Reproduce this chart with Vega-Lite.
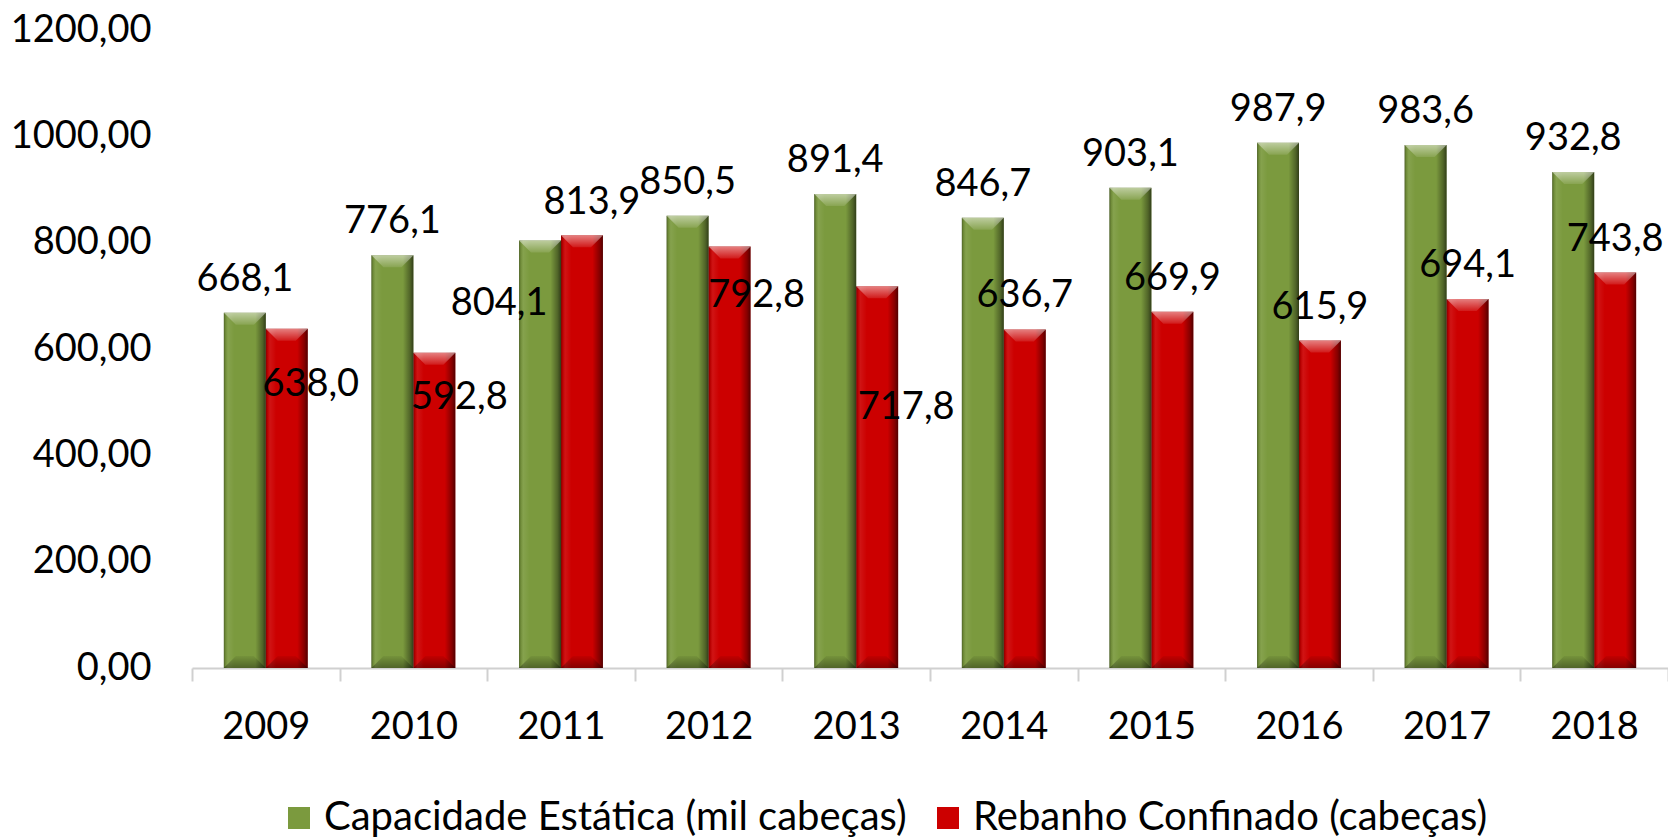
{
  "$schema": "https://vega.github.io/schema/vega-lite/v6.json",
  "width": 1476,
  "height": 638,
  "autosize": {"type": "none"},
  "padding": {"left": 192, "top": 30, "right": 0, "bottom": 170},
  "background": "white",
  "config": {
    "view": {"stroke": null},
    "font": "Lato",
    "locale": {"number": {"decimal": ",", "thousands": ".", "grouping": [3], "currency": ["R$ ", ""]}}
  },
  "data": {
    "values": [
      {"ano": "2009", "serie": "Capacidade Estática (mil cabeças)", "valor": 668.1},
      {"ano": "2009", "serie": "Rebanho Confinado (cabeças)", "valor": 638.0},
      {"ano": "2010", "serie": "Capacidade Estática (mil cabeças)", "valor": 776.1},
      {"ano": "2010", "serie": "Rebanho Confinado (cabeças)", "valor": 592.8},
      {"ano": "2011", "serie": "Capacidade Estática (mil cabeças)", "valor": 804.1},
      {"ano": "2011", "serie": "Rebanho Confinado (cabeças)", "valor": 813.9},
      {"ano": "2012", "serie": "Capacidade Estática (mil cabeças)", "valor": 850.5},
      {"ano": "2012", "serie": "Rebanho Confinado (cabeças)", "valor": 792.8},
      {"ano": "2013", "serie": "Capacidade Estática (mil cabeças)", "valor": 891.4},
      {"ano": "2013", "serie": "Rebanho Confinado (cabeças)", "valor": 717.8},
      {"ano": "2014", "serie": "Capacidade Estática (mil cabeças)", "valor": 846.7},
      {"ano": "2014", "serie": "Rebanho Confinado (cabeças)", "valor": 636.7},
      {"ano": "2015", "serie": "Capacidade Estática (mil cabeças)", "valor": 903.1},
      {"ano": "2015", "serie": "Rebanho Confinado (cabeças)", "valor": 669.9},
      {"ano": "2016", "serie": "Capacidade Estática (mil cabeças)", "valor": 987.9},
      {"ano": "2016", "serie": "Rebanho Confinado (cabeças)", "valor": 615.9},
      {"ano": "2017", "serie": "Capacidade Estática (mil cabeças)", "valor": 983.6},
      {"ano": "2017", "serie": "Rebanho Confinado (cabeças)", "valor": 694.1},
      {"ano": "2018", "serie": "Capacidade Estática (mil cabeças)", "valor": 932.8},
      {"ano": "2018", "serie": "Rebanho Confinado (cabeças)", "valor": 743.8}
    ]
  },
  "encoding": {
    "x": {
      "field": "ano", "type": "nominal",
      "scale": {"paddingInner": 0, "paddingOuter": 0},
      "axis": {
        "title": null, "labelFont": "Lato", "labelFontSize": 38, "labelColor": "black",
        "labelAngle": 0, "labelBaseline": "alphabetic", "labelPadding": 57,
        "tickBand": "extent", "tickSize": 13, "tickColor": "#d0d0d0", "tickWidth": 2,
        "domainColor": "#d0d0d0", "domainWidth": 2
      }
    },
    "xOffset": {
      "field": "serie", "type": "nominal",
      "scale": {"paddingInner": 0, "paddingOuter": 0.76}
    },
    "y": {
      "field": "valor", "type": "quantitative",
      "scale": {"domain": [0, 1200], "nice": false},
      "axis": {
        "title": null, "values": [0, 200, 400, 600, 800, 1000, 1200], "format": ".2f",
        "labelFont": "Lato", "labelFontSize": 38, "labelColor": "black", "labelPadding": 41,
        "domain": false, "ticks": false, "grid": false
      }
    }
  },
  "layer": [
    {
      "mark": {
        "type": "bar", "xOffset": 6,
        "fill": {"gradient": "linear", "x1": 0, "y1": 0, "x2": 1, "y2": 0,
          "stops": [{"offset": 0, "color": "rgba(0,0,0,0.3)"}, {"offset": 0.8, "color": "rgba(0,0,0,0.22)"}, {"offset": 1, "color": "rgba(0,0,0,0)"}]}
      }
    },
    {
      "mark": {"type": "bar"},
      "encoding": {
        "color": {
          "field": "serie", "type": "nominal",
          "scale": {"domain": ["Capacidade Estática (mil cabeças)", "Rebanho Confinado (cabeças)"], "range": ["#7B9A3E", "#CC0000"]},
          "legend": {
            "orient": "none", "legendX": 87, "legendY": 768, "direction": "horizontal", "title": null,
            "labelFont": "Lato", "labelFontSize": 40, "labelColor": "black", "labelLimit": 0,
            "symbolType": "square", "symbolSize": 484, "symbolStrokeWidth": 0, "symbolOpacity": 1,
            "labelOffset": 5, "columnPadding": 21
          }
        }
      }
    },
    {
      "mark": {
        "type": "bar",
        "fill": {"gradient": "linear", "x1": 0, "y1": 0, "x2": 1, "y2": 0,
          "stops": [
            {"offset": 0, "color": "rgba(0,0,0,0.35)"},
            {"offset": 0.04, "color": "rgba(0,0,0,0.1)"},
            {"offset": 0.1, "color": "rgba(255,255,255,0.08)"},
            {"offset": 0.25, "color": "rgba(255,255,255,0)"},
            {"offset": 0.75, "color": "rgba(0,0,0,0)"},
            {"offset": 0.92, "color": "rgba(0,0,0,0.35)"},
            {"offset": 1, "color": "rgba(0,0,0,0.6)"}
          ]}
      }
    },
    {
      "mark": {
        "type": "point", "shape": "M -1 0 L 1 0 L 0.43 0.57 L -0.43 0.57 Z", "size": 1764,
        "filled": true, "opacity": 1, "strokeWidth": 0,
        "fill": {"gradient": "linear", "x1": 0, "y1": 0, "x2": 0, "y2": 1,
          "stops": [{"offset": 0, "color": "rgba(255,255,255,0.5)"}, {"offset": 1, "color": "rgba(255,255,255,0.1)"}]}
      }
    },
    {
      "mark": {
        "type": "point", "shape": "M -1 0 L 1 0 L 0.43 -0.57 L -0.43 -0.57 Z", "size": 1764,
        "filled": true, "opacity": 1, "strokeWidth": 0,
        "fill": {"gradient": "linear", "x1": 0, "y1": 0, "x2": 0, "y2": 1,
          "stops": [{"offset": 0, "color": "rgba(0,0,0,0.05)"}, {"offset": 1, "color": "rgba(0,0,0,0.35)"}]}
      },
      "encoding": {"y": {"datum": 0}}
    },
    {
      "transform": [{"filter": "!((datum.ano=='2009' && datum.serie=='Rebanho Confinado (cabeças)') || (datum.ano=='2010' && datum.serie=='Rebanho Confinado (cabeças)') || (datum.ano=='2011') || (datum.ano=='2012' && datum.serie=='Rebanho Confinado (cabeças)') || (datum.ano=='2013' && datum.serie=='Rebanho Confinado (cabeças)'))"}],
      "mark": {"type": "text", "font": "Lato", "fontSize": 38, "color": "black", "baseline": "alphabetic", "align": "center", "dy": -22},
      "encoding": {"text": {"field": "valor", "type": "quantitative", "format": ".1f"}}
    },
    {
      "transform": [{"filter": "datum.ano=='2009' && datum.serie=='Rebanho Confinado (cabeças)'"}],
      "mark": {"type": "text", "font": "Lato", "fontSize": 38, "color": "black", "baseline": "alphabetic", "align": "center", "dx": 24, "dy": 67},
      "encoding": {"text": {"field": "valor", "type": "quantitative", "format": ".1f"}}
    },
    {
      "transform": [{"filter": "datum.ano=='2010' && datum.serie=='Rebanho Confinado (cabeças)'"}],
      "mark": {"type": "text", "font": "Lato", "fontSize": 38, "color": "black", "baseline": "alphabetic", "align": "center", "dx": 25, "dy": 56},
      "encoding": {"text": {"field": "valor", "type": "quantitative", "format": ".1f"}}
    },
    {
      "transform": [{"filter": "datum.ano=='2011' && datum.serie=='Capacidade Estática (mil cabeças)'"}],
      "mark": {"type": "text", "font": "Lato", "fontSize": 38, "color": "black", "baseline": "alphabetic", "align": "center", "dx": -41, "dy": 75},
      "encoding": {"text": {"field": "valor", "type": "quantitative", "format": ".1f"}}
    },
    {
      "transform": [{"filter": "datum.ano=='2011' && datum.serie=='Rebanho Confinado (cabeças)'"}],
      "mark": {"type": "text", "font": "Lato", "fontSize": 38, "color": "black", "baseline": "alphabetic", "align": "center", "dx": 10, "dy": -21},
      "encoding": {"text": {"field": "valor", "type": "quantitative", "format": ".1f"}}
    },
    {
      "transform": [{"filter": "datum.ano=='2012' && datum.serie=='Rebanho Confinado (cabeças)'"}],
      "mark": {"type": "text", "font": "Lato", "fontSize": 38, "color": "black", "baseline": "alphabetic", "align": "center", "dx": 27, "dy": 61},
      "encoding": {"text": {"field": "valor", "type": "quantitative", "format": ".1f"}}
    },
    {
      "transform": [{"filter": "datum.ano=='2013' && datum.serie=='Rebanho Confinado (cabeças)'"}],
      "mark": {"type": "text", "font": "Lato", "fontSize": 38, "color": "black", "baseline": "alphabetic", "align": "center", "dx": 29, "dy": 133},
      "encoding": {"text": {"field": "valor", "type": "quantitative", "format": ".1f"}}
    }
  ]
}
